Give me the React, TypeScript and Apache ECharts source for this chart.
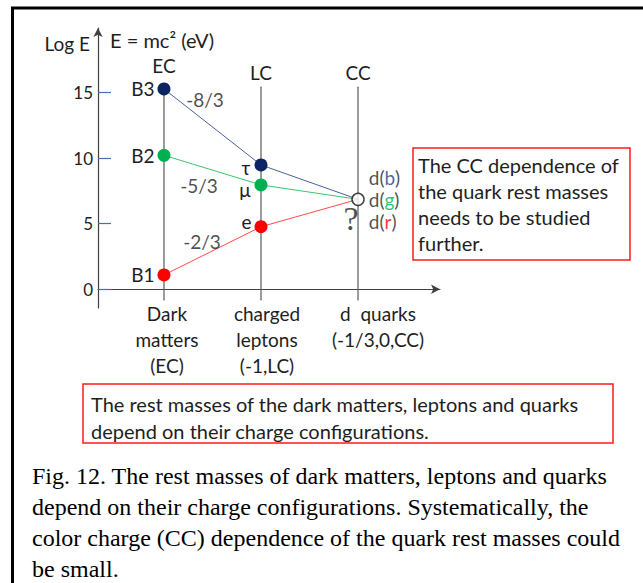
import React, { useEffect, useRef } from "react";
import * as echarts from "echarts";

// ---- data ----
const columnNames = ["EC", "LC", "CC"];
const columnX = [1, 2, 3];
const columnTop = [15.28, 15.43, 15.43];
const columnBottom = [-0.82, -0.82, -0.82];
const categoryLabels = ["Dark\nmatters\n(EC)", "charged\nleptons\n(-1,LC)", "d  quarks\n(-1/3,0,CC)"];
const yTickValues = [0, 5, 10, 15];

const blueNames = ["B3", "τ", "d(b)"];
const blueLogE = [15.28, 9.48, 6.86];
const greenNames = ["B2", "μ", "d(g)"];
const greenLogE = [10.22, 7.96, 6.86];
const redNames = ["B1", "e", "d(r)"];
const redLogE = [1.09, 4.77, 6.86];
const slopeLabels = ["-8/3", "-5/3", "-2/3"];

const rightBoxLines = ["The CC dependence of", "the quark rest masses", "needs to be studied", "further."];
const bottomBoxLines = [
  "The rest masses of the dark matters, leptons and quarks",
  "depend on their charge configurations.",
];
const captionLines = [
  "Fig. 12. The rest masses of dark matters, leptons and quarks",
  "depend on their charge configurations. Systematically, the",
  "color charge (CC) dependence of the quark rest masses could",
  "be small.",
];

const SANS = 'Lato, "Noto Sans", sans-serif';
const SERIF = '"Liberation Serif", "Times New Roman", serif';
const TEXT = "#1e1e1e";
const FS = 19;

const NAVY = "#0c2461";
const BLUE_LINE = "#4b5f9e";
const GREEN = "#00b050";
const GREEN_LINE = "#3cc46c";
const RED = "#ff0000";
const RED_LINE = "#ff4a4a";

function pointLabel(text: string, dist: number, offY: number) {
  return {
    show: true,
    position: "left",
    distance: dist,
    offset: [0, offY],
    formatter: text,
    color: TEXT,
    fontSize: FS,
    fontFamily: SANS,
  };
}

function colorSeries(name: string, names: string[], vals: number[], dot: string, line: string, lepOff: number, lepDist: number) {
  return {
    type: "line",
    name,
    z: 3,
    lineStyle: { color: line, width: 1 },
    itemStyle: { color: dot },
    symbol: "circle",
    symbolSize: 13,
    data: vals.map((v, i) => {
      if (i === 2) return { value: [columnX[i], v], name: names[i], symbol: "none" };
      return {
        value: [columnX[i], v],
        name: names[i],
        label: pointLabel(names[i], i === 0 ? 3 : lepDist, i === 0 ? 0 : lepOff),
      };
    }),
  };
}

export default function App() {
  const ref = useRef<HTMLDivElement>(null);
  useEffect(() => {
    if (!ref.current) return;
    const chart = echarts.init(ref.current, null, { renderer: "svg" });

    const columnSeries = columnNames.map((c, i) => ({
      type: "line",
      name: c,
      z: 1,
      symbol: "circle",
      symbolSize: 1,
      showSymbol: true,
      itemStyle: { color: "#5a5a5a" },
      lineStyle: { color: "#5a5a5a", width: 1.2 },
      data: [
        { value: [columnX[i], columnBottom[i]] },
        {
          value: [columnX[i], columnTop[i]],
          label: {
            show: true,
            position: "top",
            distance: i === 0 ? 13 : 4,
            formatter: c,
            color: TEXT,
            fontSize: FS,
            fontFamily: SANS,
          },
        },
      ],
    }));

    const bFirst = [blueLogE[0], greenLogE[0], redLogE[0]];
    const slopeOffsets = [
      [41, 11],
      [35, 30],
      [38, -33],
    ];

    const option: any = {
      animation: false,
      backgroundColor: "#ffffff",
      textStyle: { fontFamily: SANS },
      grid: { left: 98, right: 643 - 440, top: 28, bottom: 583 - 308, containLabel: false },
      title: [
        {
          text: "E = mc² (eV)",
          left: 110,
          top: 30,
          padding: 0,
          textStyle: { fontFamily: SANS, fontSize: 20, fontWeight: "normal", color: TEXT },
        },
      ],
      xAxis: {
        type: "value",
        min: 0.32,
        max: 3.845,
        splitLine: { show: false },
        axisTick: { show: false },
        axisLine: {
          onZero: true,
          symbol: ["none", "arrow"],
          symbolSize: [7, 9],
          lineStyle: { color: "#404040", width: 1.2 },
        },
        axisLabel: {
          customValues: columnX,
          margin: -8,
          showMinLabel: true,
          showMaxLabel: true,
          hideOverlap: false,
          formatter: (v: number) => {
            const i = columnX.indexOf(Math.round(v));
            if (i < 0) return "";
            const key = ["a", "b", "c"][i];
            return categoryLabels[i]
              .split("\n")
              .map((s) => `{${key}|${s}}`)
              .join("\n");
          },
          rich: {
            a: { fontSize: FS, fontFamily: SANS, color: TEXT, lineHeight: 26, padding: [0, -3, 0, 3] },
            b: { fontSize: FS, fontFamily: SANS, color: TEXT, lineHeight: 26, padding: [0, -6, 0, 6] },
            c: { fontSize: FS, fontFamily: SANS, color: TEXT, lineHeight: 26, padding: [0, -20, 0, 20] },
          },
        },
      },
      yAxis: {
        type: "value",
        min: -1.43,
        max: 19.93,
        name: "Log E",
        nameLocation: "end",
        nameGap: -6,
        nameTextStyle: {
          fontSize: FS,
          fontFamily: SANS,
          color: TEXT,
          align: "right",
          verticalAlign: "top",
          padding: [0, 8, 0, 0],
        },
        splitLine: { show: false },
        axisLine: {
          show: true,
          onZero: false,
          symbol: ["none", "arrow"],
          symbolSize: [7, 9],
          lineStyle: { color: "#404040", width: 1.2 },
        },
        axisTick: {
          show: true,
          inside: true,
          length: 13,
          customValues: yTickValues,
          lineStyle: { color: "#4a6cb3", width: 1.2 },
        },
        axisLabel: {
          customValues: yTickValues,
          margin: 5,
          fontSize: 17,
          fontFamily: SANS,
          color: TEXT,
        },
      },
      series: [
        ...columnSeries,
        colorSeries("blue", blueNames, blueLogE, NAVY, BLUE_LINE, 3, 4),
        colorSeries("green", greenNames, greenLogE, GREEN, GREEN_LINE, 5, 4),
        colorSeries("red", redNames, redLogE, RED, RED_LINE, -5, 3),
        {
          type: "scatter",
          name: "slopes",
          z: 4,
          symbolSize: 1,
          itemStyle: { color: "transparent" },
          data: bFirst.map((v, i) => ({
            value: [columnX[0], v],
            label: {
              show: true,
              position: "inside",
              offset: slopeOffsets[i],
              formatter: slopeLabels[i],
              color: TEXT,
              fontSize: FS,
              fontFamily: SANS,
            },
          })),
        },
        {
          type: "scatter",
          name: "question",
          z: 4,
          symbolSize: 1,
          itemStyle: { color: "transparent" },
          data: [
            {
              value: [columnX[2], blueLogE[2]],
              label: {
                show: true,
                position: "inside",
                offset: [-7, 19],
                formatter: "?",
                color: TEXT,
                fontSize: 34,
                fontFamily: SERIF,
              },
            },
          ],
        },
        {
          type: "scatter",
          name: "d quark",
          z: 5,
          symbol: "circle",
          symbolSize: 12,
          itemStyle: { color: "#ffffff", borderColor: "#111", borderWidth: 1.5 },
          data: [
            {
              value: [columnX[2], greenLogE[2]],
              label: {
                show: true,
                position: "right",
                distance: 4,
                formatter: "{t|d(}{b|b}{t|)}\n{t|d(}{g|g}{t|)}\n{t|d(}{r|r}{t|)}",
                rich: {
                  t: { color: TEXT, fontSize: FS, fontFamily: SANS, lineHeight: 22 },
                  b: { color: "#1f3f8f", fontSize: FS, fontFamily: SANS, lineHeight: 22 },
                  g: { color: GREEN, fontSize: FS, fontFamily: SANS, lineHeight: 22 },
                  r: { color: RED, fontSize: FS, fontFamily: SANS, lineHeight: 22 },
                },
              },
            },
          ],
        },
      ],
      graphic: [
        {
          type: "rect",
          silent: true,
          shape: { x: 12.5, y: 8, width: 720, height: 700 },
          style: { fill: "none", stroke: "#000", lineWidth: 3 },
        },
        {
          type: "rect",
          silent: true,
          shape: { x: 413, y: 148, width: 217, height: 112 },
          style: { fill: "#fff", stroke: "#ff1a1a", lineWidth: 1.5 },
        },
        {
          type: "text",
          silent: true,
          x: 418,
          y: 152,
          style: {
            text: rightBoxLines.join("\n"),
            fontSize: 20,
            fontFamily: SANS,
            lineHeight: 26,
            fill: TEXT,
            align: "left",
            verticalAlign: "top",
          },
        },
        {
          type: "rect",
          silent: true,
          shape: { x: 83, y: 384, width: 530, height: 59 },
          style: { fill: "#fff", stroke: "#ff1a1a", lineWidth: 1.5 },
        },
        {
          type: "text",
          silent: true,
          x: 91,
          y: 390,
          style: {
            text: bottomBoxLines.join("\n"),
            fontSize: 20,
            fontFamily: SANS,
            lineHeight: 27,
            fill: TEXT,
            align: "left",
            verticalAlign: "top",
          },
        },
        {
          type: "text",
          silent: true,
          x: 32,
          y: 460,
          style: {
            text: captionLines.join("\n"),
            fontSize: 24,
            fontFamily: SERIF,
            lineHeight: 31,
            fill: "#000",
            align: "left",
            verticalAlign: "top",
          },
        },
      ],
    };
    chart.setOption(option);
    return () => chart.dispose();
  }, []);

  return (
    <div
      ref={ref}
      style={{ position: "fixed", left: 0, top: 0, width: 643, height: 583, background: "#fff" }}
    />
  );
}
